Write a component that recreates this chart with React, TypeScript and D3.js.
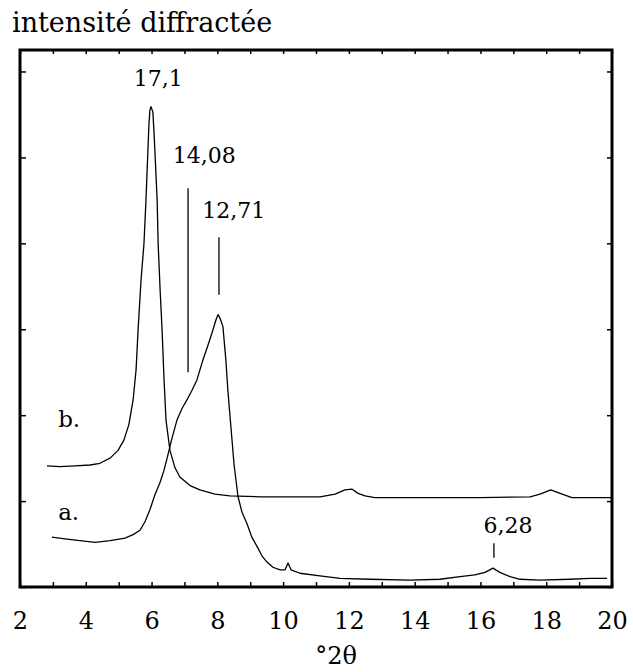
import { useRef, useEffect } from "react";
import * as d3 from "d3";

// diffractogram b. (2θ, intensity)
const curveB: [number, number][] = [
  [2.82, 141], [3.22, 140], [3.67, 141], [4.13, 142], [4.43, 144], [4.74, 150],
  [4.98, 159], [5.16, 171], [5.31, 189], [5.44, 218], [5.53, 253], [5.59, 299],
  [5.68, 357], [5.77, 400], [5.83, 450], [5.89, 509], [5.92, 538], [5.95, 555],
  [5.98, 559], [6.04, 553], [6.07, 532], [6.1, 509], [6.17, 450], [6.2, 400],
  [6.26, 346], [6.32, 299], [6.38, 241], [6.44, 194], [6.56, 159], [6.71, 139],
  [6.86, 128], [7.17, 118], [7.47, 113], [7.93, 108], [8.38, 106], [9.3, 105],
  [10.21, 105], [11.12, 105], [11.58, 108], [11.88, 113], [12.09, 114],
  [12.28, 109], [12.49, 106], [12.79, 104], [14.16, 104], [15.99, 104],
  [17.51, 105], [17.81, 108], [18.14, 113], [18.42, 109], [18.78, 104], [20, 104],
];

// diffractogram a.
const curveA: [number, number][] = [
  [2.97, 58], [3.37, 56], [3.82, 54], [4.28, 52], [4.74, 54], [5.19, 57],
  [5.44, 61], [5.65, 66], [5.8, 76], [5.95, 90], [6.1, 107], [6.26, 122],
  [6.38, 136], [6.5, 154], [6.62, 173], [6.77, 194], [6.93, 208], [7.08, 218],
  [7.23, 229], [7.38, 241], [7.56, 264], [7.72, 282], [7.84, 296], [7.96, 311],
  [8.02, 317], [8.08, 313], [8.17, 303], [8.26, 264], [8.32, 229], [8.42, 183],
  [8.51, 142], [8.63, 105], [8.75, 87], [8.9, 74], [9.05, 58], [9.21, 47],
  [9.36, 36], [9.51, 29], [9.69, 23], [9.91, 20], [10.06, 20], [10.15, 28],
  [10.24, 20], [10.51, 16], [11.12, 13], [11.73, 10], [12.64, 9], [13.86, 8],
  [14.77, 9], [15.38, 12], [15.83, 14], [16.14, 17], [16.38, 22], [16.59, 17],
  [16.9, 12], [17.2, 9], [17.81, 8], [18.72, 9], [19.33, 10], [19.85, 10],
];

const xTickLabels = [2, 4, 6, 8, 10, 12, 14, 16, 18, 20];
const xMinorTicks = d3.range(2, 21, 1);
const yTicks = [0, 100, 200, 300, 400, 500, 600];

// d-spacing labels: text, text anchor (2θ, intensity), marker line (2θ, from, to)
const peakLabels = [
  { text: "17,1", x: 6.2, y: 583, line: null as null | [number, number, number] },
  { text: "14,08", x: 7.6, y: 493, line: [7.11, 464, 250] as [number, number, number] },
  { text: "12,71", x: 8.5, y: 430, line: [8.05, 407, 340] as [number, number, number] },
  { text: "6,28", x: 16.84, y: 63, line: [16.41, 51, 34] as [number, number, number] },
];
const curveLabels = [
  { text: "b.", x: 3.16, y: 186 },
  { text: "a.", x: 3.16, y: 78 },
];

const W = 633;
const H = 672;
const M = { top: 50, right: 21, bottom: 85, left: 20 };
const FONT = "DejaVu Serif";

export default function App() {
  const ref = useRef<SVGSVGElement>(null);

  useEffect(() => {
    const svg = d3.select(ref.current);
    svg.selectAll("*").remove();

    const x = d3.scaleLinear().domain([2, 20]).range([M.left, W - M.right]);
    const y = d3.scaleLinear().domain([0, 625]).range([H - M.bottom, M.top]);

    svg.append("rect").attr("width", W).attr("height", H).attr("fill", "#fff");

    // title
    svg.append("text")
      .attr("x", 12).attr("y", 32)
      .attr("font-family", FONT)
      .attr("font-size", 27)
      .text("intensité diffractée");

    // small inward ticks on the four sides
    const tickStyle = (a: d3.Selection<SVGGElement, unknown, null, undefined>) => {
      a.select(".domain").remove();
      a.selectAll("line").attr("stroke", "#000").attr("stroke-width", 1.5);
    };
    svg.append("g").attr("transform", `translate(0,${y(0)})`)
      .call(d3.axisBottom(x).tickValues(xMinorTicks).tickSize(-5).tickFormat(() => ""))
      .call(tickStyle);
    svg.append("g").attr("transform", `translate(0,${y(625)})`)
      .call(d3.axisTop(x).tickValues(xMinorTicks).tickSize(-4).tickFormat(() => ""))
      .call(tickStyle);
    svg.append("g").attr("transform", `translate(${x(2)},0)`)
      .call(d3.axisLeft(y).tickValues(yTicks).tickSize(-6).tickFormat(() => ""))
      .call(tickStyle);
    svg.append("g").attr("transform", `translate(${x(20)},0)`)
      .call(d3.axisRight(y).tickValues(yTicks).tickSize(-5).tickFormat(() => ""))
      .call(tickStyle);

    // x tick labels
    svg.append("g").attr("transform", `translate(0,${y(0)})`)
      .call(d3.axisBottom(x).tickValues(xTickLabels).tickSize(0).tickPadding(25).tickFormat(d3.format("d")))
      .call((a) => a.select(".domain").remove())
      .call((a) => a.selectAll("text").attr("fill", "#000"))
      .attr("font-family", FONT).attr("font-size", 24);

    svg.append("text")
      .attr("x", (x(2) + x(20)) / 2 + 20).attr("y", 664)
      .attr("text-anchor", "middle")
      .attr("font-family", FONT)
      .attr("font-size", 24)
      .text("°2θ");

    // curves
    const line = d3.line<[number, number]>().x((d) => x(d[0])).y((d) => y(d[1]));
    [curveB, curveA].forEach((c) => {
      svg.append("path").datum(c).attr("d", line)
        .attr("fill", "none").attr("stroke", "#000").attr("stroke-width", 1.3)
        .attr("stroke-linejoin", "round");
    });

    // frame
    svg.append("rect")
      .attr("x", x(2)).attr("y", y(625))
      .attr("width", x(20) - x(2)).attr("height", y(0) - y(625))
      .attr("fill", "none").attr("stroke", "#000").attr("stroke-width", 3);

    // peak labels with marker lines
    peakLabels.forEach((p) => {
      svg.append("text")
        .attr("x", x(p.x)).attr("y", y(p.y))
        .attr("text-anchor", "middle")
        .attr("font-family", FONT)
        .attr("font-size", 22)
        .text(p.text);
      if (p.line) {
        svg.append("line")
          .attr("x1", x(p.line[0])).attr("x2", x(p.line[0]))
          .attr("y1", y(p.line[1])).attr("y2", y(p.line[2]))
          .attr("stroke", "#000").attr("stroke-width", 1.3);
      }
    });

    curveLabels.forEach((c) => {
      svg.append("text")
        .attr("x", x(c.x)).attr("y", y(c.y))
        .attr("font-family", FONT)
        .attr("font-size", 23)
        .text(c.text);
    });
  }, []);

  return (
    <svg
      ref={ref}
      width={W}
      height={H}
      viewBox={`0 0 ${W} ${H}`}
      style={{ position: "absolute", left: 0, top: 0 }}
    />
  );
}
